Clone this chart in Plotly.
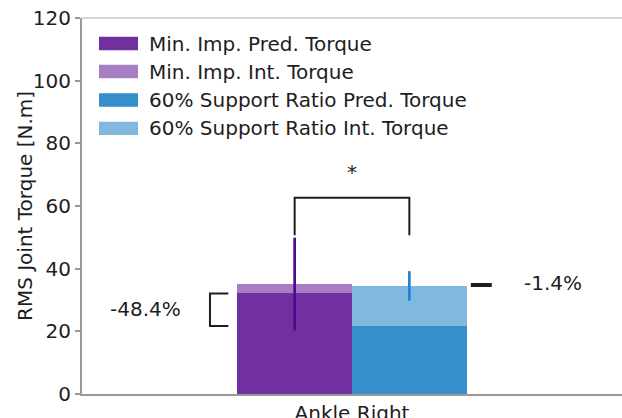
import plotly.graph_objects as go

# ---------------- data ----------------
categories = ["Ankle Right"]
series_names = ["Min. Imp. Pred. Torque", "Min. Imp. Int. Torque",
                "60% Support Ratio Pred. Torque", "60% Support Ratio Int. Torque"]
min_imp_pred = [32.1]
min_imp_int = [35.1]
sr60_pred = [21.7]
sr60_int = [34.5]
min_imp_int_sd = [14.8]
sr60_int_sd = [4.7]
pct_pred_label = "-48.4%"
pct_int_label = "-1.4%"
sig_label = "*"
sig_top = 62.6
sig_leg_bottom = 50.7
y_ticks = [0, 20, 40, 60, 80, 100, 120]
y_title = "RMS Joint Torque [N.m]"

# ---------------- style ----------------
FONT = "DejaVu Sans"
FS = 20
TXT = "#1e1e1e"
C_PURPLE = "#7030A0"
C_PURPLE_L = "#A77EC4"
C_BLUE = "#368ECA"
C_BLUE_L = "#80B8E0"
C_PURPLE_ERR = "#4E0A8C"
C_BLUE_ERR = "#1F84D6"
AX = "#999999"

WIN_W, WIN_H = 622, 418
LEFT, TOP, BOTTOM_Y = 82, 18, 394   # plot area in window pixels
PW, PH = WIN_W - LEFT, BOTTOM_Y - TOP

W = 0.4248
OFF = W / 2
x0 = 0
xs_a = [x0 - OFF]
xs_b = [x0 + OFF]

fig = go.Figure()
# interaction (taller, light) bars first, predicted bars on top
fig.add_trace(go.Bar(x=xs_a, y=min_imp_int, width=[W], marker_color=C_PURPLE_L,
                     marker_line_width=0, showlegend=False))
fig.add_trace(go.Bar(x=xs_b, y=sr60_int, width=[W], marker_color=C_BLUE_L,
                     marker_line_width=0, showlegend=False))
fig.add_trace(go.Bar(x=xs_a, y=min_imp_pred, width=[W], marker_color=C_PURPLE,
                     marker_line_width=0, showlegend=False))
fig.add_trace(go.Bar(x=xs_b, y=sr60_pred, width=[W], marker_color=C_BLUE,
                     marker_line_width=0, showlegend=False))

# error bars
fig.add_trace(go.Scatter(x=xs_a, y=min_imp_int, mode="markers", marker=dict(size=0.1, opacity=0),
                         error_y=dict(type="data", array=min_imp_int_sd, width=0, thickness=2.7,
                                      color=C_PURPLE_ERR), showlegend=False, hoverinfo="skip"))
fig.add_trace(go.Scatter(x=xs_b, y=sr60_int, mode="markers", marker=dict(size=0.1, opacity=0),
                         error_y=dict(type="data", array=sr60_int_sd, width=0, thickness=2.7,
                                      color=C_BLUE_ERR), showlegend=False, hoverinfo="skip"))

# significance bracket
fig.add_trace(go.Scatter(x=[xs_a[0], xs_a[0], xs_b[0], xs_b[0]],
                         y=[sig_leg_bottom, sig_top, sig_top, sig_leg_bottom],
                         mode="lines", line=dict(color=TXT, width=2), showlegend=False, hoverinfo="skip"))

# left bracket between predicted torques
bl_v, bl_h = x0 - 0.526, x0 - 0.458
fig.add_trace(go.Scatter(x=[bl_h, bl_v, bl_v, bl_h],
                         y=[min_imp_pred[0], min_imp_pred[0], sr60_pred[0], sr60_pred[0]],
                         mode="lines", line=dict(color=TXT, width=2), showlegend=False, hoverinfo="skip"))
# right bracket between interaction torques
br_v, br_h = x0 + 0.514, x0 + 0.44
fig.add_trace(go.Scatter(x=[br_h, br_v, br_v, br_h],
                         y=[min_imp_int[0], min_imp_int[0], sr60_int[0], sr60_int[0]],
                         mode="lines", line=dict(color=TXT, width=2), showlegend=False, hoverinfo="skip"))

annotations = [
    dict(x=x0, y=70.9, text=sig_label, showarrow=False, xref="x", yref="y",
         font=dict(family=FONT, size=FS, color=TXT)),
    dict(x=x0 - 0.763, y=27, text=pct_pred_label, showarrow=False, xref="x", yref="y",
         font=dict(family=FONT, size=FS, color=TXT)),
    dict(x=x0 + 0.744, y=35.3, text=pct_int_label, showarrow=False, xref="x", yref="y",
         font=dict(family=FONT, size=FS, color=TXT)),
    # y-axis title
    dict(x=(25 - LEFT) / PW, y=0.5, xref="paper", yref="paper", text=y_title, textangle=-90,
         showarrow=False, xanchor="center", yanchor="middle",
         font=dict(family=FONT, size=FS, color=TXT)),
]

# custom legend (wide patches like the reference)
shapes = []
leg_colors = [C_PURPLE, C_PURPLE_L, C_BLUE, C_BLUE_L]
row_py = [43.5, 71.5, 100.0, 128.3]
for name, col, py in zip(series_names, leg_colors, row_py):
    yc = (BOTTOM_Y - py) / PH
    h = 6.65 / PH
    shapes.append(dict(type="rect", xref="paper", yref="paper",
                       x0=(99 - LEFT) / PW, x1=(138 - LEFT) / PW, y0=yc - h, y1=yc + h,
                       fillcolor=col, line=dict(width=0), layer="above"))
    annotations.append(dict(x=(147 - LEFT) / PW, y=yc, xref="paper", yref="paper", text=name,
                            showarrow=False, xanchor="left", yanchor="middle",
                            font=dict(family=FONT, size=FS, color=TXT)))

# top spine (lighter)
shapes.append(dict(type="line", xref="paper", yref="paper", x0=0, x1=1, y0=1, y1=1,
                   line=dict(color="#c8c8c8", width=1.5)))

fig.update_layout(
    width=WIN_W, height=WIN_H,
    margin=dict(l=LEFT, r=0, t=TOP, b=WIN_H - BOTTOM_Y, autoexpand=False),
    paper_bgcolor="white", plot_bgcolor="white",
    barmode="overlay", bargap=0,
    showlegend=False,
    font=dict(family=FONT, size=FS, color=TXT),
    annotations=annotations, shapes=shapes,
    xaxis=dict(range=[-1, 1], tickvals=[x0], ticktext=categories, showgrid=False, zeroline=False,
               showline=True, linecolor=AX, linewidth=2, ticks="", fixedrange=True,
               automargin=False, ticklabeloverflow="allow",
               tickfont=dict(family=FONT, size=FS, color=TXT)),
    yaxis=dict(range=[0, 120], tickvals=y_ticks, showgrid=False, zeroline=False,
               showline=True, linecolor=AX, linewidth=2, ticks="outside", ticklen=5,
               tickcolor=AX, tickwidth=1.5, automargin=False, ticklabeloverflow="allow",
               tickfont=dict(family=FONT, size=FS, color=TXT)),
)

fig.write_html(
    "out.html",
    config={"displayModeBar": False},
    post_script="document.body.style.margin='0';document.body.style.padding='0';"
                "document.body.style.overflow='hidden';"
                "document.documentElement.style.overflow='hidden';",
)
